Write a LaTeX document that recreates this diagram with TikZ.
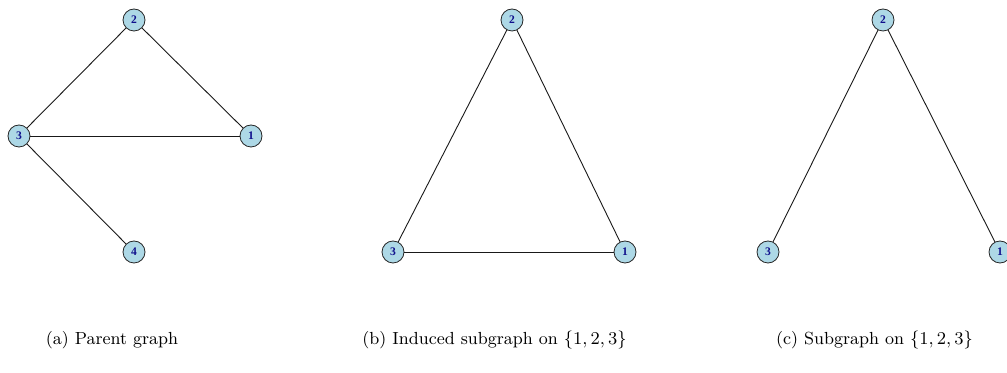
\documentclass[tikz,border=0pt]{standalone}
\usepackage{fontspec}
\newfontfamily\nodefont{Liberation Serif}
\definecolor{nodefill}{RGB}{173,216,230}
\definecolor{nodetext}{RGB}{15,15,140}
\begin{document}
\begin{tikzpicture}[x=0.5pt,y=-0.5pt,
  vtx/.style={circle,draw=black!85,fill=nodefill,minimum size=11pt,inner sep=0pt,font=\nodefont\fontsize{5.8}{6}\selectfont\bfseries,text=nodetext},
  edge/.style={draw=black!90,line width=0.45pt},
  captxt/.style={font=\fontsize{8.75}{11}\selectfont,inner sep=0pt}]
\useasboundingbox (0,0) rectangle (1007,373);
% (a)
\node[vtx] (a2) at (134,20) {2};
\node[vtx] (a3) at (19,136) {3};
\node[vtx] (a1) at (251,136) {1};
\node[vtx] (a4) at (134,252) {4};
\draw[edge] (a3) -- (a2);
\draw[edge] (a2) -- (a1);
\draw[edge] (a3) -- (a1);
\draw[edge] (a3) -- (a4);
% (b)
\node[vtx] (b2) at (512,20) {2};
\node[vtx] (b3) at (393,252) {3};
\node[vtx] (b1) at (625,252) {1};
\draw[edge] (b3) -- (b2);
\draw[edge] (b2) -- (b1);
\draw[edge] (b3) -- (b1);
% (c)
\node[vtx] (c2) at (883,20) {2};
\node[vtx] (c3) at (768,252) {3};
\node[vtx] (c1) at (1000,252) {1};
\draw[edge] (c3) -- (c2);
\draw[edge] (c2) -- (c1);
% captions
\node[captxt] (capa) at (112,340) {(a) Parent graph};
\node[captxt] (capb) at (494.5,340) {(b) Induced subgraph on $\{1,2,3\}$};
\node[captxt] (capc) at (874.5,340) {(c) Subgraph on $\{1,2,3\}$};
\end{tikzpicture}
\end{document}
